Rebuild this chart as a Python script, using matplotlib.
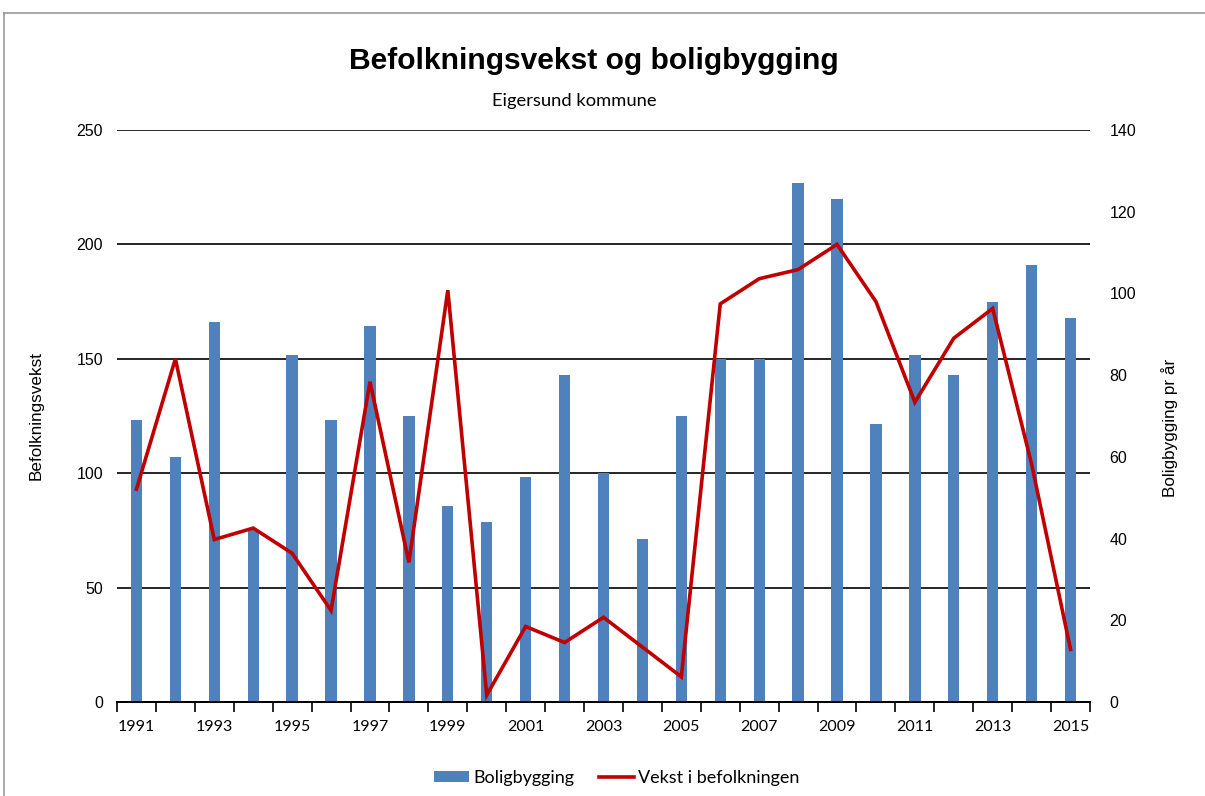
import numpy as np
import matplotlib.pyplot as plt
from matplotlib.lines import Line2D
from matplotlib.patches import Patch

years = list(range(1991, 2016))
boligbygging = [69, 60, 93, 42, 85, 69, 92, 70, 48, 44, 55, 80, 56, 40, 70,
                84, 84, 127, 123, 68, 85, 80, 98, 107, 94]
vekst = [93, 150, 71, 76, 65, 40, 140, 61, 180, 3, 33, 26, 37, 24, 11,
         174, 185, 189, 200, 175, 131, 159, 172, 104, 23]

BAR_COL = '#4F81BD'
LINE_COL = '#C00000'
plt.rcParams['font.family'] = ['Lato', 'DejaVu Sans']
ARIAL = 'Liberation Sans'

fig = plt.figure(figsize=(12.05, 7.96), dpi=100)
ax = fig.add_axes([117/1205, 94/796, 973/1205, 572/796])
ax2 = ax.twinx()
ax3 = ax.twinx()

x = np.arange(len(years))

# left axis: grid only
ax.set_ylim(0, 250)
ax.set_yticks(np.arange(0, 251, 50))
ax.grid(axis='y', color='black', linewidth=1.2)
ax.set_axisbelow(True)
ax.tick_params(axis='y', length=0, pad=10, labelsize=11.5)
for t in ax.get_yticklabels():
    t.set_family(ARIAL)

# bars on right axis
ax2.bar(x, boligbygging, width=0.29, color=BAR_COL, zorder=3)
ax2.set_ylim(0, 140)
ax2.set_yticks(np.arange(0, 141, 20))
ax2.tick_params(axis='y', length=0, pad=14, labelsize=11.5)
for t in ax2.get_yticklabels():
    t.set_family(ARIAL)

# line on left scale
ax3.plot(x, vekst, color=LINE_COL, linewidth=2.6, solid_joinstyle='miter')
ax3.set_ylim(0, 250)
ax3.set_yticks([])

for a in (ax, ax2, ax3):
    a.set_xlim(-0.5, len(years) - 0.5)
    for s in ('top', 'left', 'right'):
        a.spines[s].set_visible(False)
    a.spines['bottom'].set_linewidth(1.2)

ax.set_xticks(np.arange(-0.5, len(years), 1))
ax.set_xticklabels([])
ax.set_xticks(x[::2], minor=True)
ax.set_xticklabels([str(y) for y in years[::2]], minor=True, fontsize=11.5)
ax.tick_params(axis='x', which='major', length=7, width=1.2, direction='out')
ax.tick_params(axis='x', which='minor', length=0, pad=13)

ax.set_ylabel('Befolkningsvekst', fontsize=12.3, family=ARIAL, labelpad=24)
ax2.set_ylabel('Boligbygging pr år', fontsize=12.3, family=ARIAL, labelpad=18)
ax2.yaxis.set_label_coords(1.073, 0.48)

fig.text(0.493, 1 - 61/796, 'Befolkningsvekst og boligbygging', ha='center', va='center',
         fontsize=21.6, fontweight='bold', family=ARIAL)
fig.text(0.477, 1 - 101/796, 'Eigersund kommune', ha='center', va='center', fontsize=13.2)

handles = [Patch(facecolor=BAR_COL), Line2D([0], [0], color=LINE_COL, linewidth=2.6)]
fig.legend(handles, ['Boligbygging', 'Vekst i befolkningen'], loc='center',
           bbox_to_anchor=(0.512, 1 - 778/796), ncol=2, frameon=False, fontsize=13,
           handlelength=1.9, handleheight=0.55, handletextpad=0.25, columnspacing=1.4)

# outer frame
fig.add_artist(Line2D([4/1205, 1], [1 - 13/796, 1 - 13/796], color='#999999', linewidth=1.2))
fig.add_artist(Line2D([4/1205, 4/1205], [0, 1 - 13/796], color='#999999', linewidth=1.2))

fig.savefig('out.png', dpi=100)
